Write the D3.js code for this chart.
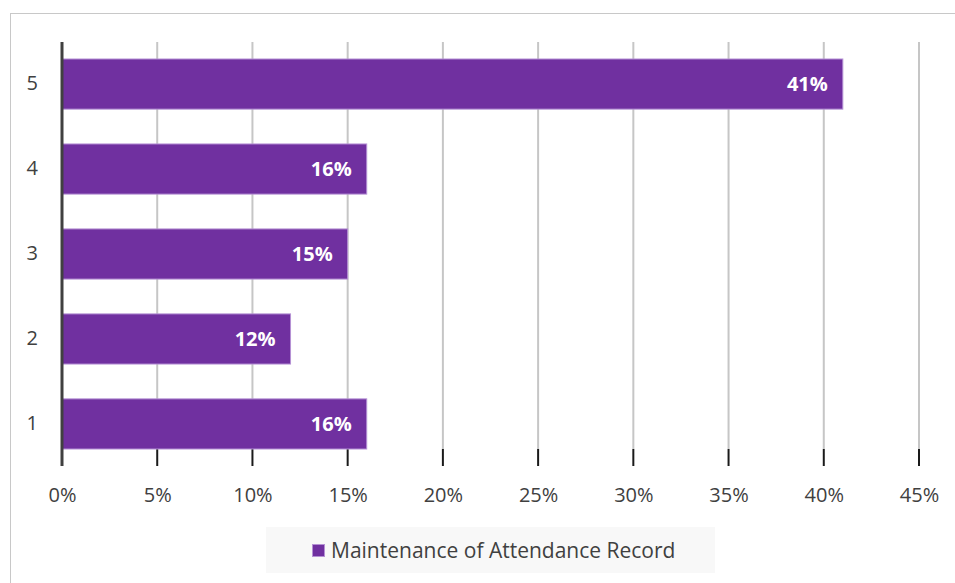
<!DOCTYPE html>
<html>
<head>
<meta charset="utf-8">
<script src="https://cdn.jsdelivr.net/npm/d3@7/dist/d3.min.js"></script>
<style>
  body { margin: 0; background: #fff; }
  text { font-family: "Open Sans", "Noto Sans", sans-serif; }
</style>
</head>
<body>
<svg id="chart" width="955" height="583"></svg>
<script>
const categories = ["1", "2", "3", "4", "5"];
const values = [16, 12, 15, 16, 41];
const xTicks = [0, 5, 10, 15, 20, 25, 30, 35, 40, 45];
const seriesName = "Maintenance of Attendance Record";

const svg = d3.select("#chart");
const W = 955, H = 583;
const margin = { left: 62, right: W - 919, top: 42, bottom: H - 466 };
const FONT = "'Open Sans', 'Noto Sans', sans-serif";

// outer chart frame
svg.append("rect")
  .attr("x", 10.5).attr("y", 13.5)
  .attr("width", W + 20).attr("height", H + 20)
  .attr("fill", "#fff").attr("stroke", "#c8c8c8");

const x = d3.scaleLinear().domain([0, 45]).range([margin.left, W - margin.right]);
const y = d3.scaleBand().domain(categories.slice().reverse())
  .range([margin.top, H - margin.bottom]).paddingInner(0.41).paddingOuter(0.2);

const plotBottom = H - margin.bottom;
const lastBarBottom = y("1") + y.bandwidth();

// gridlines: light within the bar area, dark tick below the last bar
const grid = svg.append("g");
xTicks.slice(1).forEach(t => {
  grid.append("line")
    .attr("x1", x(t)).attr("x2", x(t))
    .attr("y1", margin.top).attr("y2", lastBarBottom)
    .attr("stroke", "#c6c6c6").attr("stroke-width", 2);
  grid.append("line")
    .attr("x1", x(t)).attr("x2", x(t))
    .attr("y1", lastBarBottom).attr("y2", plotBottom)
    .attr("stroke", "#1a1a1a").attr("stroke-width", 2);
});

// bars
svg.append("g").selectAll("rect")
  .data(categories.map((c, i) => ({ c, v: values[i] })))
  .join("rect")
  .attr("x", x(0))
  .attr("y", d => y(d.c))
  .attr("width", d => x(d.v) - x(0))
  .attr("height", y.bandwidth())
  .attr("fill", "#7030a0")
  .attr("stroke", "#b591d4").attr("stroke-width", 1);

// value labels
svg.append("g").selectAll("text")
  .data(categories.map((c, i) => ({ c, v: values[i] })))
  .join("text")
  .attr("x", d => x(d.v) - 15)
  .attr("y", d => y(d.c) + y.bandwidth() / 2)
  .attr("dy", "0.36em")
  .attr("text-anchor", "end")
  .attr("fill", "#fff")
  .attr("font-weight", "bold")
  .attr("font-size", 20)
  .text(d => d.v + "%");

// vertical axis line
svg.append("line")
  .attr("x1", x(0)).attr("x2", x(0))
  .attr("y1", margin.top).attr("y2", plotBottom)
  .attr("stroke", "#404040").attr("stroke-width", 3);

// x-axis labels
const xAxis = d3.axisBottom(x).tickValues(xTicks).tickFormat(d => d + "%").tickSize(0).tickPadding(22);
const gx = svg.append("g").attr("transform", `translate(0,${plotBottom})`).call(xAxis);
gx.select(".domain").remove();
gx.attr("font-size", 20).attr("font-family", FONT);
gx.selectAll("text").attr("fill", "#404040");

// y-axis labels
const yAxis = d3.axisLeft(y).tickSize(0).tickPadding(24);
const gy = svg.append("g").attr("transform", `translate(${x(0)},0)`).call(yAxis);
gy.select(".domain").remove();
gy.attr("font-size", 20).attr("font-family", FONT);
gy.selectAll("text").attr("fill", "#404040");

// legend
const lg = svg.append("g");
lg.append("rect").attr("x", 266).attr("y", 527).attr("width", 449).attr("height", 46).attr("fill", "#f8f8f8");
lg.append("rect").attr("x", 312.5).attr("y", 544.5).attr("width", 12).attr("height", 12)
  .attr("fill", "#7030a0").attr("stroke", "#b591d4");
lg.append("text").attr("x", 331).attr("y", 550.5).attr("dy", "0.36em")
  .attr("font-size", 21).attr("fill", "#404040").text(seriesName);
</script>
</body>
</html>
